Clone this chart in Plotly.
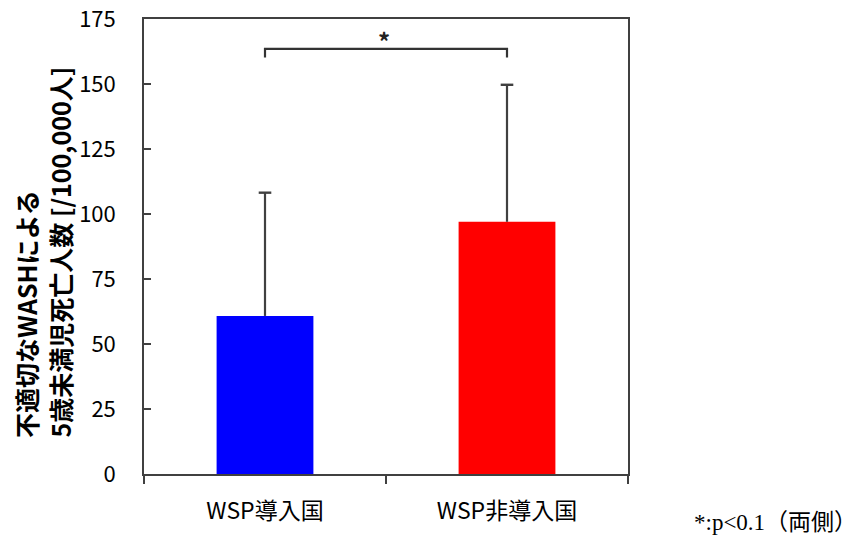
import plotly.graph_objects as go

categories = ["WSP導入国", "WSP非導入国"]
means = [60.8, 97.0]
err_upper = [47.4, 52.7]
bar_colors = ["#0000FF", "#FF0000"]
y_ticks = [0, 25, 50, 75, 100, 125, 150, 175]
bracket_y = 163.5
bracket_drop = 160.2
sig_label = "*"
y_title_lines = ["不適切なWASHによる", "5歳未満児死亡人数 [/100,000人]"]
footnote = "*:p<0.1（両側）"

# page has an 8px body margin, so the figure is 16px smaller than the window
W, H = 851, 530
L, R, T, B = 136, 231, 11, 64
PW, PH = W - L - R, H - T - B


def px(xf):
    return (xf - L) / PW


def py(yf):
    return (H - B - yf) / PH


ERR_COLOR = "#404040"

fig = go.Figure()
fig.add_trace(go.Bar(
    x=categories, y=means, width=0.4,
    marker=dict(color=bar_colors, line=dict(width=0)),
    error_y=dict(type="data", symmetric=False, array=err_upper,
                 arrayminus=[0, 0], color=ERR_COLOR, thickness=2.2, width=0),
    showlegend=False,
))
# error-bar caps (top only)
fig.add_trace(go.Scatter(
    x=categories, y=[m + e for m, e in zip(means, err_upper)],
    mode="markers",
    marker=dict(symbol="line-ew-open", size=9, color=ERR_COLOR,
                line=dict(color=ERR_COLOR, width=2.4)),
    hoverinfo="skip", showlegend=False,
))

# significance bracket
fig.add_trace(go.Scatter(
    x=[categories[0], categories[0], categories[1], categories[1]],
    y=[bracket_drop, bracket_y, bracket_y, bracket_drop],
    mode="lines", line=dict(color="#333333", width=2.2),
    hoverinfo="skip", showlegend=False,
))
fig.add_annotation(x=0.49, xref="x", y=bracket_y, yref="y", text=sig_label,
                   showarrow=False, yanchor="bottom", yshift=-11,
                   font=dict(family="Noto Sans CJK JP", size=24, color="#222222", weight="bold"))

# y-axis title (two rotated lines, start-aligned at the bottom)
for text, xc in zip(y_title_lines, [18, 51]):
    fig.add_annotation(x=px(xc), xref="paper", y=py(432), yref="paper",
                       text=text, textangle=-90, showarrow=False,
                       xanchor="center", yanchor="bottom",
                       font=dict(family="Noto Sans CJK JP", size=25, color="#000000", weight="bold"))

# footnote
fig.add_annotation(x=px(851), xref="paper", y=py(514), yref="paper",
                   text=footnote, showarrow=False, xanchor="right", yanchor="middle",
                   font=dict(family="Liberation Serif, Noto Sans CJK JP", size=23, color="#000000"))

fig.update_layout(
    width=W, height=H,
    margin=dict(l=L, r=R, t=T, b=B, autoexpand=False),
    plot_bgcolor="white", paper_bgcolor="white",
    font=dict(family="Noto Sans CJK JP", size=22, color="#000000"),
    bargap=0.6,
)
fig.update_xaxes(
    showline=True, linecolor="#404040", linewidth=1.6, mirror=True,
    ticks="outside", tickson="boundaries", ticklen=8, tickcolor="#404040", tickwidth=1.6,
    tickfont=dict(size=23), showgrid=False, range=[-0.5, 1.5],
    ticklabelstandoff=16, automargin=False,
)
fig.update_yaxes(
    range=[0, 175], tickvals=y_ticks, ticks="inside", ticklen=7,
    tickcolor="#404040", tickwidth=1.6,
    showline=True, linecolor="#404040", linewidth=1.6, mirror=True,
    showgrid=False, zeroline=False, tickfont=dict(size=22),
    ticklabelstandoff=22, automargin=False, ticklabeloverflow="allow",
)

fig.write_html("out.html")
